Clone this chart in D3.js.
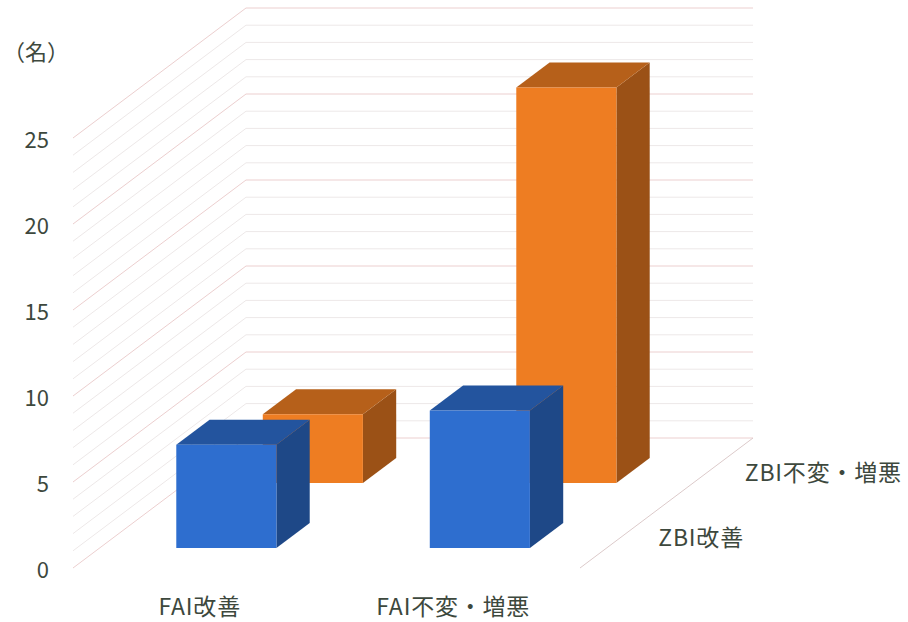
<!DOCTYPE html>
<html>
<head>
<meta charset="utf-8">
<script src="https://cdn.jsdelivr.net/npm/d3@7"></script>
<style>
  html, body { margin: 0; padding: 0; background: #ffffff; }
  svg { display: block; }
  text { font-family: "Noto Sans CJK JP", "Noto Sans", sans-serif; fill: #3d483d; }
</style>
</head>
<body>
<svg id="chart" width="908" height="622"></svg>
<script>
// categories along the front (FAI) and rows in depth (ZBI)
const faiCategories = ["FAI改善", "FAI不変・増悪"];
const zbiSeries = ["ZBI改善", "ZBI不変・増悪"];
// counts per ZBI row, in FAI category order
const zbiImproved = [6, 8];
const zbiWorse = [4, 23];
const valueTicks = [0, 5, 10, 15, 20, 25];
const unitLabel = "（名）";
const seriesColors = ["#2e6ecf", "#ee7d22"];

const svg = d3.select("#chart");

// oblique projection: floor front-left corner, front width, depth offset
const origin = { x: 73, y: 568 };
const frontWidth = 507;
const depthDy = 130;              // vertical shift of full depth
const depthSlope = 173 / 130;     // horizontal shift per unit of vertical depth shift

const xBand = d3.scaleBand().domain(faiCategories).range([0, frontWidth]);
const zBand = d3.scaleBand().domain(zbiSeries).range([0, depthDy]);
const yScale = d3.scaleLinear().domain([0, 25]).range([0, 430]);

// project (x along front, z into depth, v value height) to screen
function project(x, z, v) {
  return [origin.x + x + z * depthSlope, origin.y - z - yScale(v)];
}

// ---- walls with gridlines every unit ----
const grid = svg.append("g").attr("fill", "none").attr("stroke-width", 1);
d3.range(0, 26).forEach(v => {
  const pts = [project(0, 0, v), project(0, depthDy, v), project(frontWidth, depthDy, v)];
  grid.append("path")
    .attr("d", d3.line()(pts))
    .attr("stroke", v % 5 === 0 ? "#eccfcf" : "#ede8e8");
});
// right edge of the floor
grid.append("path")
  .attr("d", d3.line()([project(frontWidth, depthDy, 0), project(frontWidth, 0, 0)]))
  .attr("stroke", "#dccaca");

// ---- value axis labels ----
svg.append("g").selectAll("text")
  .data(valueTicks)
  .join("text")
  .attr("x", 49)
  .attr("y", d => project(0, 0, d)[1])
  .attr("text-anchor", "end")
  .attr("dominant-baseline", "central")
  .attr("font-size", 22)
  .text(d => d);

svg.append("text")
  .attr("x", 3)
  .attr("y", 50)
  .attr("dominant-baseline", "central")
  .attr("font-size", 22)
  .attr("fill", "#333333")
  .text(unitLabel);

// ---- bars ----
const rows = [
  { name: zbiSeries[1], values: zbiWorse, color: seriesColors[1] },
  { name: zbiSeries[0], values: zbiImproved, color: seriesColors[0] }
]; // back row first so the front row overlaps it

const barWidthFrac = 0.395;
const barDepthFrac = 0.385;

const bars = svg.append("g");
rows.forEach(row => {
  const zc = zBand(row.name) + zBand.bandwidth() / 2;
  const bd = zBand.bandwidth() * barDepthFrac;
  const z0 = zc - bd / 2, z1 = zc + bd / 2;
  const base = d3.color(row.color);
  faiCategories.forEach((cat, i) => {
    const v = row.values[i];
    const xc = xBand(cat) + xBand.bandwidth() / 2;
    const bw = xBand.bandwidth() * barWidthFrac;
    const x0 = xc - bw / 2, x1 = xc + bw / 2;
    const g = bars.append("g");
    // right side face
    g.append("path")
      .attr("d", d3.line()([project(x1, z0, 0), project(x1, z1, 0), project(x1, z1, v), project(x1, z0, v)]) + "Z")
      .attr("fill", base.darker(1.2));
    // top face
    g.append("path")
      .attr("d", d3.line()([project(x0, z0, v), project(x1, z0, v), project(x1, z1, v), project(x0, z1, v)]) + "Z")
      .attr("fill", base.darker(0.75));
    // front face
    g.append("path")
      .attr("d", d3.line()([project(x0, z0, 0), project(x1, z0, 0), project(x1, z0, v), project(x0, z0, v)]) + "Z")
      .attr("fill", base);
  });
});

// ---- category labels ----
svg.append("g").selectAll("text")
  .data(faiCategories)
  .join("text")
  .attr("x", d => project(xBand(d) + xBand.bandwidth() / 2, 0, 0)[0])
  .attr("y", 605)
  .attr("text-anchor", "middle")
  .attr("dominant-baseline", "central")
  .attr("font-size", 23)
  .attr("letter-spacing", 0.8)
  .text(d => d);

svg.append("g").selectAll("text")
  .data(zbiSeries)
  .join("text")
  .attr("x", d => project(frontWidth, zBand(d) + zBand.bandwidth() / 2, 0)[0] + 35)
  .attr("y", d => project(frontWidth, zBand(d) + zBand.bandwidth() / 2, 0)[1])
  .attr("dominant-baseline", "central")
  .attr("font-size", 23)
  .attr("letter-spacing", 0.8)
  .text(d => d);
</script>
</body>
</html>
